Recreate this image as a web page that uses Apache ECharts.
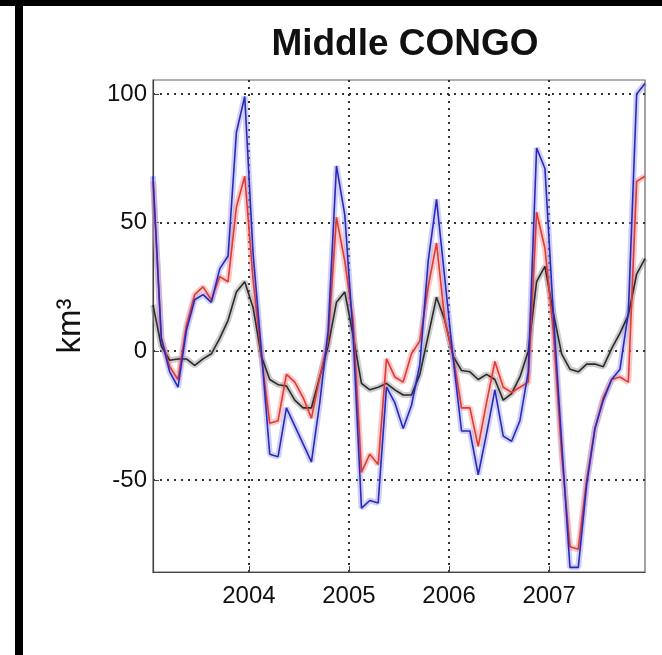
<!DOCTYPE html>
<html>
<head>
<meta charset="utf-8">
<script src="https://cdn.jsdelivr.net/npm/echarts@6/dist/echarts.min.js"></script>
<style>
html,body{margin:0;padding:0;background:#fff;}
#chart{width:662px;height:655px;}
</style>
</head>
<body>
<div id="chart"></div>
<script>
// Monthly values, Jan 2003 .. Dec 2007 (km^3)
const startYear = 2003;
const blueValues = [
  68, 5, -8, -14, 8, 20, 22, 19, 32, 37, 85, 99,
  38, 0, -40, -41, -22, -29, -36, -43, -20, 8, 72, 53,
  6, -61, -58, -59, -14, -20, -30, -21, -5, 35, 59, 28,
  -3, -31, -31, -48, -32, -15, -33, -35, -27, -8, 79, 71,
  15, -35, -84, -84, -52, -30, -19, -11, -7, 15, 100, 104
];
const redValues = [
  66, 5, -6, -11, 10, 22, 25, 20, 29, 27, 56, 68,
  28, -2, -28, -27, -9, -12, -18, -26, -10, 4, 52, 35,
  12, -47, -40, -44, -3, -10, -12, -1, 4, 25, 42, 12,
  -2, -22, -22, -37, -20, -4, -14, -16, -14, -12, 54, 40,
  8, -40, -76, -77, -50, -30, -18, -11, -10, -12, 66, 68
];
const blackValues = [
  18, 2, -3.5, -3, -3, -5.5, -3, -1, 5, 12, 23, 27,
  17, -2, -11, -13, -13.5, -19, -22, -22, -10, 2, 19, 23,
  6, -12.5, -15, -14, -12.5, -15, -17, -17, -9, 6, 21, 12,
  -2, -7.5, -8, -11, -9, -11, -19, -16.5, -10, 0, 27, 33,
  15, -1, -7, -8, -5, -5, -6, 1, 7, 14, 30, 36
];
const xTickValues = [2004, 2005, 2006, 2007];
const yTickValues = [-50, 0, 50, 100];
const titleText = 'Middle CONGO';
const yAxisName = 'km\u00B3';

function pairs(vals) {
  return vals.map((v, i) => [startYear + (i + 0.5) / 12, v]);
}

const FONT = 'Liberation Sans, Arial, sans-serif';
const chart = echarts.init(document.getElementById('chart'), null, {renderer: 'canvas'});

function bandSeries(vals, color) {
  return {
    type: 'line', data: pairs(vals), showSymbol: false, symbol: 'none',
    lineStyle: {color: color, width: 6, opacity: 0.45}, z: 1, silent: true
  };
}
function mainSeries(vals, color) {
  return {
    type: 'line', data: pairs(vals), showSymbol: false, symbol: 'none',
    lineStyle: {color: color, width: 1.6}, z: 3, silent: true
  };
}

chart.setOption({
  animation: false,
  backgroundColor: '#ffffff',
  title: {
    text: titleText,
    left: 400, top: 21, textAlign: 'center',
    textStyle: {fontFamily: FONT, fontWeight: 'bold', fontSize: 37, color: '#111'}
  },
  grid: {left: 153, right: 17, top: 80, bottom: 83, show: true, borderColor: '#666', borderWidth: 1.2, backgroundColor: 'transparent'},
  xAxis: {
    type: 'value', min: 2003 + 0.5 / 12, max: 2008 - 0.5 / 12,
    axisLine: {show: true, onZero: false, lineStyle: {color: '#444', width: 1.2}},
    axisTick: {show: true, inside: true, length: 6, customValues: xTickValues, lineStyle: {color: '#444'}},
    axisLabel: {customValues: xTickValues, fontFamily: FONT, fontSize: 24, color: '#111', margin: 12, formatter: v => String(v)},
    splitLine: {show: true, lineStyle: {color: '#333', width: 2, type: [2, 5]}}
  },
  yAxis: {
    type: 'value', min: -85.8, max: 105.4,
    name: yAxisName, nameLocation: 'middle', nameGap: 66, nameRotate: 90,
    nameTextStyle: {fontFamily: FONT, fontSize: 33, color: '#111'},
    axisLine: {show: true, lineStyle: {color: '#444', width: 1.2}},
    axisTick: {show: true, inside: true, length: 6, customValues: yTickValues, lineStyle: {color: '#444'}},
    axisLabel: {customValues: yTickValues, fontFamily: FONT, fontSize: 24, color: '#111', margin: 6},
    splitLine: {show: true, lineStyle: {color: '#333', width: 2, type: [2, 5]}}
  },
  graphic: [
    {type: 'rect', left: 15, top: 0, shape: {width: 8, height: 655}, style: {fill: '#000'}},
    {type: 'rect', left: 0, top: 0, shape: {width: 662, height: 6}, style: {fill: '#000'}}
  ],
  series: [
    bandSeries(blackValues, '#909090'),
    bandSeries(redValues, '#f08a8a'),
    bandSeries(blueValues, '#9a9af0'),
    mainSeries(blackValues, '#2a2a2a'),
    mainSeries(redValues, '#e03a35'),
    mainSeries(blueValues, '#2a2ab8')
  ]
});
</script>
</body>
</html>
